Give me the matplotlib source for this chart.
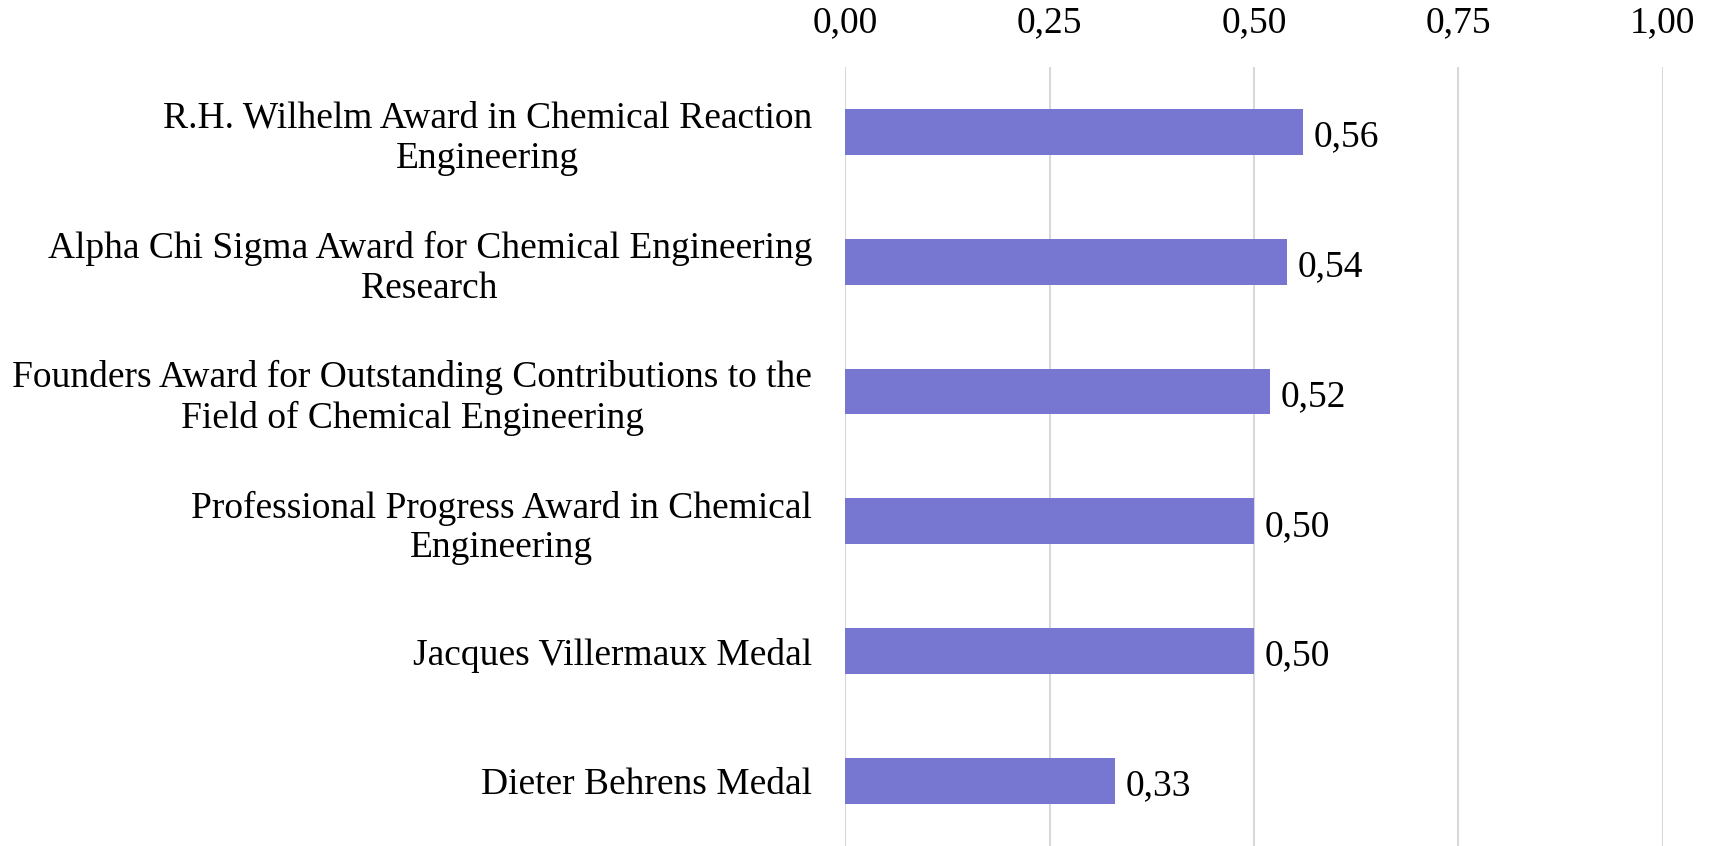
import matplotlib.pyplot as plt
from matplotlib.ticker import FuncFormatter

# data
awards = [
    "R.H. Wilhelm Award in Chemical Reaction\nEngineering",
    "Alpha Chi Sigma Award for Chemical Engineering\nResearch",
    "Founders Award for Outstanding Contributions to the\nField of Chemical Engineering",
    "Professional Progress Award in Chemical\nEngineering",
    "Jacques Villermaux Medal",
    "Dieter Behrens Medal",
]
scores = [0.56, 0.54, 0.52, 0.50, 0.50, 0.33]
ticks = [0.0, 0.25, 0.5, 0.75, 1.0]

plt.rcParams['font.family'] = ['Liberation Serif', 'DejaVu Serif']

fig = plt.figure(figsize=(17.15, 8.46), dpi=100)
ax = fig.add_axes([0.493, 0.0, 0.4765, 0.921])

ypos = list(range(len(awards)))[::-1]
ax.barh(ypos, scores, height=0.353, color='#7777D1', zorder=3)

for y, v in zip(ypos, scores):
    ax.text(v + 0.013, y - 0.04, f"{v:.2f}".replace('.', ','),
            va='center', ha='left', fontsize=27)

ax.set_xlim(0, 1.0)
ax.set_ylim(-0.5, 5.5)
ax.set_xticks(ticks)
ax.xaxis.set_major_formatter(FuncFormatter(lambda x, p: f"{x:.2f}".replace('.', ',')))
ax.xaxis.tick_top()
ax.tick_params(axis='x', length=0, pad=19, labelsize=27)

ax.set_yticks(ypos)
ax.set_yticklabels(awards, fontsize=27, multialignment='center', linespacing=1.2)
ax.tick_params(axis='y', length=0, pad=24)

ax.grid(axis='x', color='#d9d9d9', linewidth=1.5, zorder=0)
for s in ax.spines.values():
    s.set_visible(False)

fig.savefig("out.png", dpi=100)
